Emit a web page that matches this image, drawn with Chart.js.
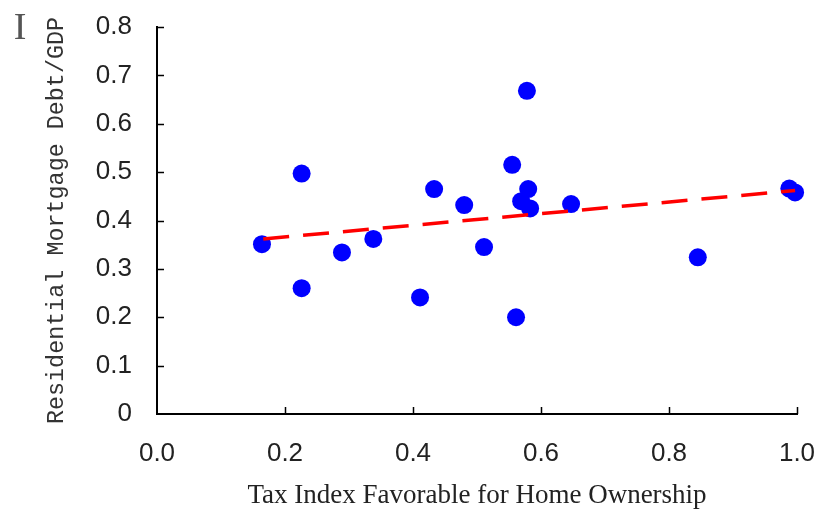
<!DOCTYPE html>
<html>
<head>
<meta charset="utf-8">
<script src="https://cdn.jsdelivr.net/npm/chart.js@4/dist/chart.umd.min.js"></script>
<style>
  html, body { margin: 0; padding: 0; background: #fff; }
  #wrap { width: 815px; height: 510px; position: relative; }
</style>
</head>
<body>
<div id="wrap"><canvas id="c"></canvas></div>
<script>
// ---- data ----
const taxIndex     = [0.164, 0.226, 0.226, 0.289, 0.338, 0.411, 0.433, 0.480, 0.511, 0.555, 0.578, 0.561, 0.569, 0.580, 0.583, 0.647, 0.845, 0.988, 0.997];
const mortgageDebt = [0.351, 0.497, 0.260, 0.334, 0.362, 0.241, 0.465, 0.432, 0.345, 0.515, 0.668, 0.200, 0.440, 0.465, 0.425, 0.434, 0.324, 0.466, 0.458];
const trendX = [0.166, 0.997];
const trendY = [0.362, 0.462];
const xTickValues = [0.0, 0.2, 0.4, 0.6, 0.8, 1.0];
const yTickValues = [0, 0.1, 0.2, 0.3, 0.4, 0.5, 0.6, 0.7, 0.8];
const xTitle = 'Tax Index Favorable for Home Ownership';
const yTitle = 'Residential Mortgage Debt/GDP';

const scatterPts = taxIndex.map((x, i) => ({ x: x, y: mortgageDebt[i] }));
const trendPts = trendX.map((x, i) => ({ x: x, y: trendY[i] }));

const tickMarks = {
  id: 'tickMarks',
  afterDatasetsDraw(chart) {
    const ctx = chart.ctx;
    const xs = chart.scales.x, ys = chart.scales.y;
    const ca = chart.chartArea;
    ctx.save();
    ctx.strokeStyle = '#000';
    ctx.lineWidth = 1.5;
    ctx.beginPath();
    yTickValues.forEach(v => {
      if (v === 0) return;
      const py = Math.round(ys.getPixelForValue(v)) + 0.5;
      ctx.moveTo(ca.left, py); ctx.lineTo(ca.left + 7, py);
    });
    xTickValues.forEach(v => {
      if (v === 0) return;
      const px = Math.round(xs.getPixelForValue(v)) + 0.5;
      ctx.moveTo(px, ca.bottom); ctx.lineTo(px, ca.bottom - 7);
    });
    ctx.stroke();
    // I-beam glyph at top-left
    ctx.fillStyle = '#555';
    ctx.font = '38px "Liberation Serif"';
    ctx.textAlign = 'center';
    ctx.textBaseline = 'middle';
    ctx.fillText('I', 20, 29);
    ctx.restore();
  }
};

new Chart(document.getElementById('c'), {
  type: 'scatter',
  data: {
    datasets: [
      {
        type: 'line',
        data: trendPts,
        borderColor: '#ff0000',
        borderWidth: 3.5,
        borderDash: [26, 14],
        pointRadius: 0,
        fill: false,
        order: 0,
        clip: false
      },
      {
        type: 'scatter',
        data: scatterPts,
        backgroundColor: '#0000ff',
        borderColor: '#0000ff',
        borderWidth: 0,
        pointRadius: 9,
        pointHoverRadius: 9,
        order: 1,
        clip: false
      }
    ]
  },
  options: {
    responsive: true,
    maintainAspectRatio: false,
    animation: false,
    events: [],
    layout: { padding: { top: 27, right: 18, left: 0, bottom: 0 } },
    plugins: { legend: { display: false }, tooltip: { enabled: false } },
    scales: {
      x: {
        type: 'linear',
        min: 0, max: 1,
        afterBuildTicks(s) { s.ticks = xTickValues.map(v => ({ value: v })); },
        afterFit(s) { s.height = 96; s.paddingLeft = 0; s.paddingRight = 0; },
        grid: { display: false, drawTicks: false },
        border: { display: true, color: '#000', width: 2 },
        ticks: {
          padding: 24,
          color: '#222',
          font: { family: '"Liberation Sans", Arial, sans-serif', size: 26 },
          callback: v => Number(v).toFixed(1),
          maxRotation: 0, autoSkip: false
        },
        title: {
          display: true,
          text: xTitle,
          color: '#222',
          font: { family: '"Liberation Serif", "Times New Roman", serif', size: 27, lineHeight: 1 },
          padding: { top: 0, bottom: 1 }
        }
      },
      y: {
        type: 'linear',
        min: 0, max: 0.8,
        afterBuildTicks(s) { s.ticks = yTickValues.map(v => ({ value: v })); },
        afterFit(s) { s.width = 157; s.paddingTop = 0; s.paddingBottom = 0; },
        grid: { display: false, drawTicks: false },
        border: { display: true, color: '#000', width: 2 },
        ticks: {
          padding: 25,
          color: '#222',
          font: { family: '"Liberation Sans", Arial, sans-serif', size: 26 },
          callback: v => (Math.abs(v) < 1e-9 ? '0' : Number(v).toFixed(1))
        },
        title: {
          display: true,
          text: yTitle,
          color: '#333',
          font: { family: '"Liberation Mono", "DejaVu Sans Mono", monospace', size: 23.4, lineHeight: 1 },
          padding: { top: 45, bottom: 0 }
        }
      }
    }
  },
  plugins: [tickMarks]
});
</script>
</body>
</html>
